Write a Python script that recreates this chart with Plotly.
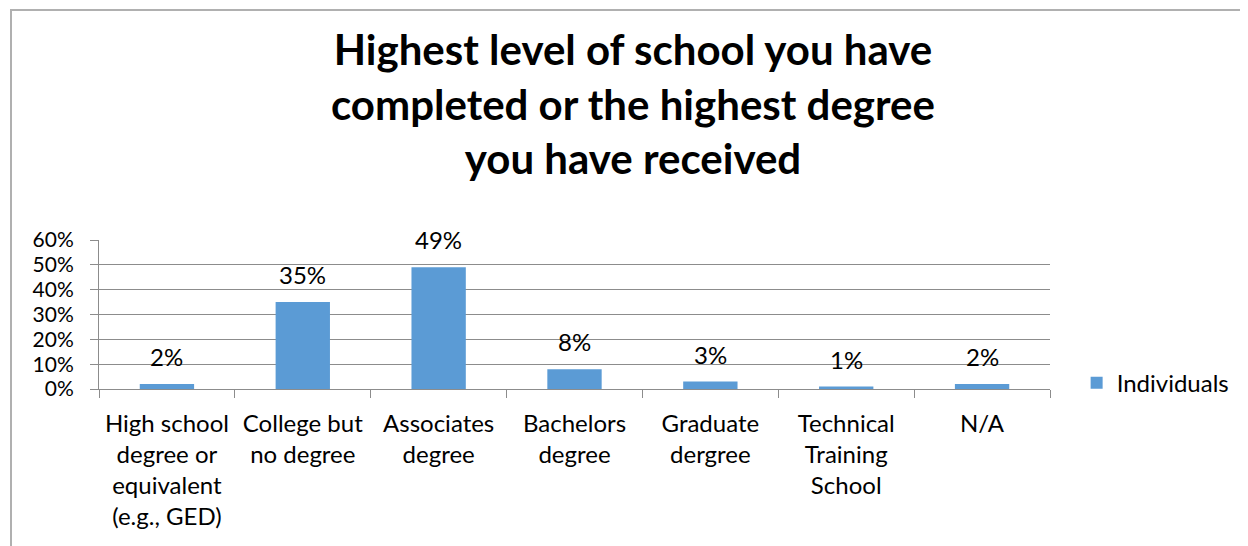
import plotly.graph_objects as go

categories = [
    "High school<br>degree or<br>equivalent<br>(e.g., GED)",
    "College but<br>no degree",
    "Associates<br>degree",
    "Bachelors<br>degree",
    "Graduate<br>dergree",
    "Technical<br>Training<br>School",
    "N/A",
]
values = [0.02, 0.35, 0.49, 0.08, 0.03, 0.01, 0.02]
labels = ["2%", "35%", "49%", "8%", "3%", "1%", "2%"]
series_name = "Individuals"
title_text = "Highest level of school you have<br>completed or the highest degree<br>you have received"

# page body has an 8px margin, so figure coords = screen coords - 8
W, H = 1248, 546
L, R, T, B = 91, 1042, 232, 381
FONT = "Lato"
BLUE = "#5b9bd5"
GRID = "#8c8c8c"
FS = 24

fig = go.Figure()
fig.add_trace(go.Bar(
    x=categories, y=values, name=series_name,
    marker=dict(color=BLUE, line=dict(width=0)),
    width=0.4, showlegend=True,
))

for c, v, t in zip(categories, values, labels):
    fig.add_annotation(x=c, y=v, xref="x", yref="y", text=t, showarrow=False,
                       yanchor="bottom", yshift=11,
                       font=dict(family=FONT, size=FS, color="#000000"))

fig.add_annotation(x=(625 - L) / (R - L), y=(B - 95) / (B - T), xref="paper", yref="paper",
                   text="<b>" + title_text + "</b>", showarrow=False,
                   xanchor="center", yanchor="middle", align="center",
                   font=dict(family=FONT, size=42, color="#000000"))

fig.update_layout(
    width=W, height=H,
    paper_bgcolor="white", plot_bgcolor="white",
    margin=dict(l=L, r=W - R, t=T, b=H - B, pad=0),
    font=dict(family=FONT, size=FS, color="#000000"),
    showlegend=True,
    legend=dict(x=1.028, y=0.04, xanchor="left", yanchor="middle",
                font=dict(family=FONT, size=FS), itemwidth=30,
                bgcolor="rgba(0,0,0,0)"),
    bargap=0.6,
)

fig.update_xaxes(
    type="category", showgrid=False, showline=True, linecolor=GRID, linewidth=1,
    ticks="outside", tickson="boundaries", ticklen=8, tickcolor=GRID,
    ticklabelstandoff=13,
    tickfont=dict(family=FONT, size=FS), fixedrange=True, automargin=False,
)
fig.update_yaxes(
    range=[0, 0.6], dtick=0.1, tickformat=".0%",
    showgrid=True, gridcolor=GRID, gridwidth=1,
    showline=True, linecolor=GRID, linewidth=1,
    ticks="outside", ticklen=8, tickcolor=GRID,
    ticklabelstandoff=12,
    tickfont=dict(family=FONT, size=21), zeroline=False, fixedrange=True, automargin=False,
)

# chart border
fig.add_shape(type="rect", xref="paper", yref="paper",
              x0=(3 - L) / (R - L), x1=(W + 20 - L) / (R - L),
              y0=-(H + 20 - B) / (B - T), y1=(B - 2) / (B - T),
              line=dict(color="#b0b0b0", width=2), fillcolor="rgba(0,0,0,0)", layer="below")

fig.write_html("out.html")
